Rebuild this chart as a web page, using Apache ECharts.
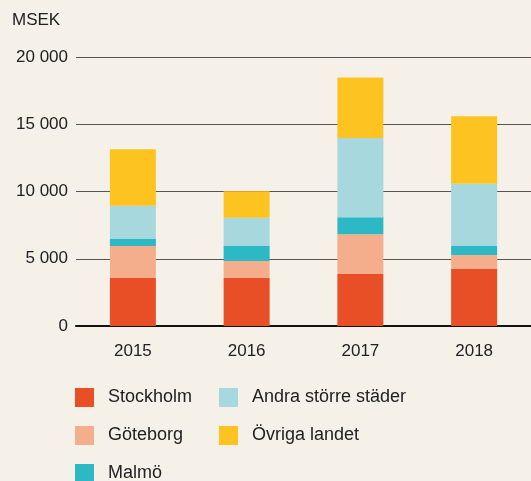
<!DOCTYPE html>
<html>
<head>
<meta charset="utf-8">
<script src="https://cdn.jsdelivr.net/npm/echarts@6/dist/echarts.min.js"></script>
<style>
html,body{margin:0;padding:0;background:#f5f0e8;}
#c{width:531px;height:481px;}
</style>
</head>
<body>
<div id="c"></div>
<script>
var years = ['2015', '2016', '2017', '2018'];
var stockholm = [3560, 3560, 3860, 4230];
var goteborg = [2380, 1265, 2970, 1040];
var malmo = [520, 1115, 1260, 670];
var andra = [2475, 2100, 5890, 4630];
var ovriga = [4210, 1980, 4500, 5020];
var yTicks = [0, 5000, 10000, 15000, 20000];

var seriesDefs = [
  {name: 'Stockholm', data: stockholm, color: '#e84f27'},
  {name: 'Göteborg', data: goteborg, color: '#f5ae8c'},
  {name: 'Malmö', data: malmo, color: '#2db8c6'},
  {name: 'Andra större städer', data: andra, color: '#a6d8de'},
  {name: 'Övriga landet', data: ovriga, color: '#fdc421'}
];
var legendPos = {
  'Stockholm': [75, 388],
  'Andra större städer': [219, 388],
  'Göteborg': [75, 426],
  'Övriga landet': [219, 426],
  'Malmö': [75, 464]
};
var FONT = 'Liberation Sans';
var chart = echarts.init(document.getElementById('c'), null, {renderer: 'canvas'});
function fmt(v){ return String(v).replace(/\B(?=(\d{3})+(?!\d))/g, ' '); }
var legends = seriesDefs.map(function(s){
  return {
    data: [s.name], left: legendPos[s.name][0], top: legendPos[s.name][1],
    orient: 'horizontal', itemWidth: 19, itemHeight: 19, itemGap: 0,
    icon: 'rect', padding: 0, selectedMode: false,
    textStyle: {fontFamily: FONT, fontSize: 18, color: '#222', padding: [0,0,0,9]}
  };
});
chart.setOption({
  backgroundColor: '#f5f0e8',
  animation: false,
  graphic: [{type: 'text', left: 12, top: 12, style: {text: 'MSEK', font: '17px "Liberation Sans"', fill: '#222'}}],
  legend: legends,
  grid: {left: 76, right: 0, top: 57, bottom: 155},
  xAxis: {
    type: 'category', data: years,
    axisLine: {show: true, lineStyle: {color: '#111', width: 2}},
    axisTick: {show: false},
    axisLabel: {fontFamily: FONT, fontSize: 17, color: '#222', margin: 17}
  },
  yAxis: {
    type: 'value', min: 0, max: 20000, interval: 5000,
    axisLine: {show: false}, axisTick: {show: false},
    splitLine: {lineStyle: {color: '#555', width: 1}},
    axisLabel: {fontFamily: FONT, fontSize: 17, color: '#222', margin: 8,
      formatter: function(v){ return yTicks.indexOf(v) >= 0 ? fmt(v) : ''; }}
  },
  series: seriesDefs.map(function(s){
    return {name: s.name, type: 'bar', stack: 'tot', data: s.data, barWidth: 46,
      itemStyle: {color: s.color}};
  })
});
</script>
</body>
</html>
